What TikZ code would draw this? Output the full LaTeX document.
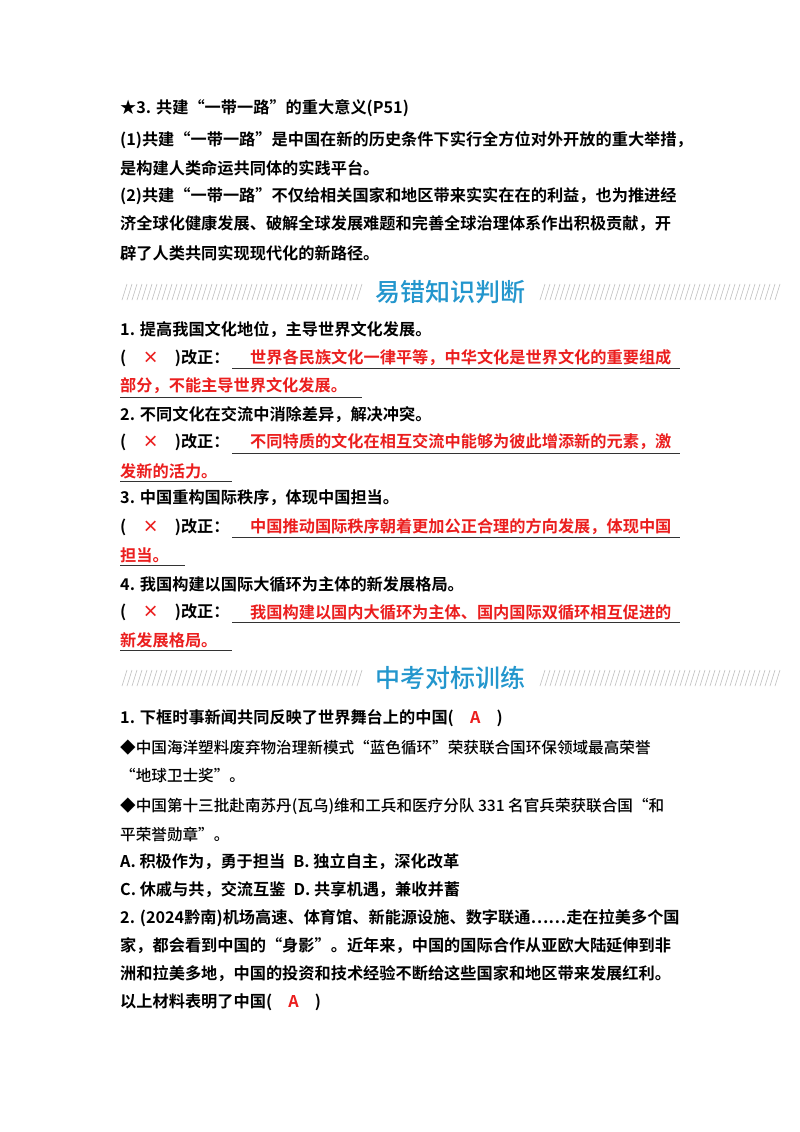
\documentclass[tikz,border=0pt]{standalone}
\usepackage{fontspec}
\newfontfamily\cjk{Noto Sans CJK SC}[BoldFont={* Bold}]
\newfontfamily\cjkb{Noto Sans CJK SC Bold}
\newfontfamily\cjkm{Noto Sans CJK SC Medium}
\definecolor{hblue}{RGB}{35,150,205}
\definecolor{hred}{RGB}{235,30,30}
\begin{document}
\begin{tikzpicture}[x=1pt,y=-1pt,
 t/.style={anchor=west,inner sep=0,font=\cjkb\fontsize{16.2}{16.2}\selectfont},
 s/.style={anchor=west,inner sep=0,font=\cjkm\fontsize{15.6}{15.6}\selectfont},
 r/.style={anchor=west,inner sep=0,text=hred,font=\cjkb\fontsize{16.2}{16.2}\selectfont},
 head/.style={inner sep=0,text=hblue,font=\cjkm\fontsize{25}{25}\selectfont},
 ul/.style={draw=black!80,line width=0.9pt},
 hatch/.style={draw=black!25,line width=0.6pt}]
\useasboundingbox[fill=white] (0,0) rectangle (800,1132);
\node[t] (l1) at (120,108) {★3. 共建“一带一路”的重大意义(P51)};
\node[t] (l2) at (120,140) {(1)共建“一带一路”是中国在新的历史条件下实行全方位对外开放的重大举措，};
\node[t] (l3) at (120,168) {是构建人类命运共同体的实践平台。};
\node[t] (l4) at (120,196) {(2)共建“一带一路”不仅给相关国家和地区带来实实在在的利益，也为推进经};
\node[t] (l5) at (120,224) {济全球化健康发展、破解全球发展难题和完善全球治理体系作出积极贡献，开};
\node[t] (l6) at (120,253) {辟了人类共同实现现代化的新路径。};
% band 1
\foreach \x in {122,127,...,357} \draw[hatch] (\x,300) -- (\x+5,284);
\foreach \x in {540,545,...,775} \draw[hatch] (\x,300) -- (\x+5,284);
\node[head] (h1) at (450,292) {易错知识判断};
% items
\node[t] (q1) at (120,330) {1. 提高我国文化地位，主导世界文化发展。};
\node[t] (a1) at (120,358) {(\quad\textcolor{hred}{×}\quad)改正：};
\node[r] (a1r) at (250,358) {世界各民族文化一律平等，中华文化是世界文化的重要组成};
\draw[ul] (232,368) -- (680,368);
\node[r] (a1s) at (120,386) {部分，不能主导世界文化发展。};
\draw[ul] (120,397) -- (362,397);
\node[t] (q2) at (120,415) {2. 不同文化在交流中消除差异，解决冲突。};
\node[t] (a2) at (120,442) {(\quad\textcolor{hred}{×}\quad)改正：};
\node[r] (a2r) at (250,442) {不同特质的文化在相互交流中能够为彼此增添新的元素，激};
\draw[ul] (232,453) -- (680,453);
\node[r] (a2s) at (120,471) {发新的活力。};
\draw[ul] (120,481) -- (232,481);
\node[t] (q3) at (120,498) {3. 中国重构国际秩序，体现中国担当。};
\node[t] (a3) at (120,527) {(\quad\textcolor{hred}{×}\quad)改正：};
\node[r] (a3r) at (250,527) {中国推动国际秩序朝着更加公正合理的方向发展，体现中国};
\draw[ul] (232,537) -- (680,537);
\node[r] (a3s) at (120,555) {担当。};
\draw[ul] (120,565) -- (185,565);
\node[t] (q4) at (120,584) {4. 我国构建以国际大循环为主体的新发展格局。};
\node[t] (a4) at (120,612) {(\quad\textcolor{hred}{×}\quad)改正：};
\node[r] (a4r) at (250,612) {我国构建以国内大循环为主体、国内国际双循环相互促进的};
\draw[ul] (232,622) -- (680,622);
\node[r] (a4s) at (120,640) {新发展格局。};
\draw[ul] (120,650) -- (232,650);
% band 2
\foreach \x in {122,127,...,357} \draw[hatch] (\x,686) -- (\x+5,670);
\foreach \x in {540,545,...,775} \draw[hatch] (\x,686) -- (\x+5,670);
\node[head] (h2) at (450,678) {中考对标训练};
\node[t] (p1) at (120,718) {1. 下框时事新闻共同反映了世界舞台上的中国(\quad\textcolor{hred}{A}\quad)};
\node[s] (b1) at (120,748) {◆中国海洋塑料废弃物治理新模式“蓝色循环”荣获联合国环保领域最高荣誉};
\node[s] (b1s) at (120,776) {“地球卫士奖”。};
\node[s] (b2) at (120,806) {◆中国第十三批赴南苏丹(瓦乌)维和工兵和医疗分队 331 名官兵荣获联合国“和};
\node[s] (b2s) at (120,834) {平荣誉勋章”。};
\node[t] (oA) at (120,862) {A. 积极作为，勇于担当\enspace B. 独立自主，深化改革};
\node[t] (oC) at (120,890) {C. 休戚与共，交流互鉴\enspace D. 共享机遇，兼收并蓄};
\node[t] (p2) at (120,918) {2. (2024黔南)机场高速、体育馆、新能源设施、数字联通……走在拉美多个国};
\node[t] (p2b) at (120,946) {家，都会看到中国的“身影”。近年来，中国的国际合作从亚欧大陆延伸到非};
\node[t] (p2c) at (120,974) {洲和拉美多地，中国的投资和技术经验不断给这些国家和地区带来发展红利。};
\node[t] (p2d) at (120,1002) {以上材料表明了中国(\quad\textcolor{hred}{A}\quad)};
\end{tikzpicture}
\end{document}
